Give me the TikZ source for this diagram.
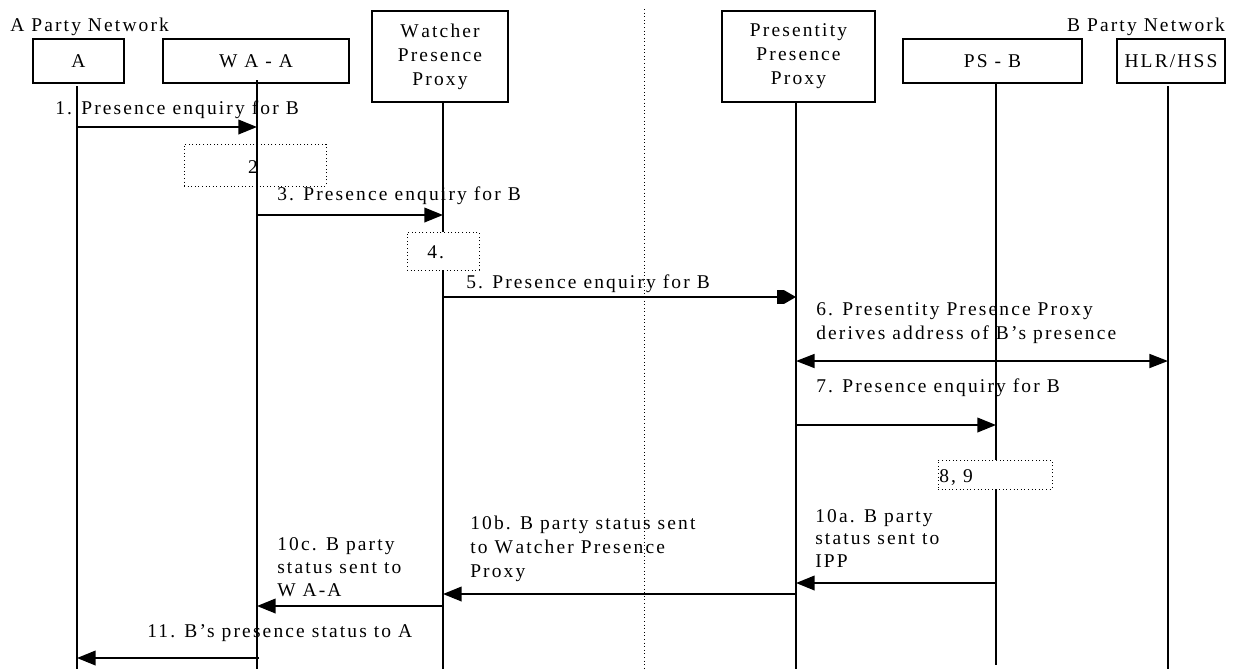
\documentclass[tikz,border=0pt]{standalone}
\usepackage{fontspec}
\setmainfont{Liberation Serif}[LetterSpace=11]
\usetikzlibrary{arrows.meta}
\begin{document}
\begin{tikzpicture}[x=0.75pt,y=-0.75pt,
  txt/.style={font=\fontsize{14.6}{18}\selectfont},
  ent/.style={txt,draw,line width=1.3pt,inner sep=0pt,align=center,minimum height=33pt},
  tall/.style={minimum height=68.25pt},
  life/.style={line width=1.3pt},
  msg/.style={line width=1.3pt,-{Triangle[length=14pt,width=11pt]}},
  lbl/.style={txt,inner sep=0pt,anchor=base west},
  act/.style={draw,dotted,line width=0.7pt,inner sep=0pt}]
\useasboundingbox (0,0) rectangle (1234,669);

% network labels
\node[lbl] (netA) at (10,31) {A Party Network};
\node[txt,inner sep=0pt,anchor=base east] (netB) at (1225,31) {B Party Network};

% divider
\coordinate (divT) at (644,9);
\coordinate (divB) at (644,669);
\draw[dotted,line width=0.7pt] (divT) -- (divB);

% entities
\node[ent,minimum width=68.25pt] (A) at (78.5,61) {A};
\node[ent,minimum width=139.5pt] (WA) at (256,61) {W A - A};
\node[ent,tall,minimum width=102pt] (WPP) at (440,56.5) {W\kern2pt atcher\\Presence\\Proxy};
\node[ent,tall,minimum width=114.75pt] (PPP) at (798.5,56.5) {Presentity\\Presence\\Proxy};
\node[ent,minimum width=134.25pt] (PSB) at (992.5,61) {PS - B};
\node[ent,minimum width=81pt] (HLR) at (1171,61) {HLR/HSS};

% lifelines
\coordinate (lAt) at (77,86);    \coordinate (lAb) at (77,669);
\coordinate (lWt) at (257,80);   \coordinate (lWb) at (257,669);
\coordinate (lPt) at (443,102);  \coordinate (lPb) at (443,669);
\coordinate (lQt) at (796,102);  \coordinate (lQb) at (796,669);
\coordinate (lSt) at (996,83);   \coordinate (lSb) at (996,665);
\coordinate (lHt) at (1168,86);  \coordinate (lHb) at (1168,669);
\draw[life] (lAt) -- (lAb);
\draw[life] (lWt) -- (lWb);
\draw[life] (lPt) -- (lPb);
\draw[life] (lQt) -- (lQb);
\draw[life] (lSt) -- (lSb);
\draw[life] (lHt) -- (lHb);

% activity boxes
\node[act,minimum width=106.5pt,minimum height=31.5pt] (b2) at (255,165) {};
\node[txt,inner sep=0pt,anchor=base] (t2) at (253,173) {2};
\node[act,fill=white,minimum width=54pt,minimum height=28.5pt] (b4) at (443,251) {};
\node[lbl] (t4) at (427,258) {4.};
\node[act,fill=white,minimum width=85.5pt,minimum height=21.75pt] (b89) at (995,474.5) {};
\node[lbl] (t89) at (939,482) {8, 9};

% message end points
\coordinate (m1s) at (77,127);   \coordinate (m1e) at (257,127);
\coordinate (m3s) at (257,215);  \coordinate (m3e) at (443,215);
\coordinate (m5s) at (443,297);  \coordinate (m5e) at (796,297);
\coordinate (m6s) at (796,361);  \coordinate (m6e) at (1168,361);
\coordinate (m7s) at (796,425);  \coordinate (m7e) at (996,425);
\coordinate (m10as) at (996,583); \coordinate (m10ae) at (796,583);
\coordinate (m10bs) at (796,594); \coordinate (m10be) at (443,594);
\coordinate (m10cs) at (443,606); \coordinate (m10ce) at (257,606);
\coordinate (m11s) at (259,658); \coordinate (m11e) at (77,658);

% messages
\draw[msg] (m1s) -- (m1e);
\node[lbl] (l1) at (55,114) {1. Presence enquiry for B};
\draw[msg] (m3s) -- (m3e);
\node[lbl] (l3) at (277,200) {3. Presence enquiry for B};
\draw[line width=1.3pt,-{Rectangle[length=5pt,width=10pt]Triangle[length=9pt,width=10pt]}] (m5s) -- (m5e);
\node[lbl] (l5) at (466,288) {5. Presence enquiry for B};
\draw[line width=1.3pt,{Triangle[length=14pt,width=10.5pt]}-{Triangle[length=14pt,width=10.5pt]}] (m6s) -- (m6e);
\node[lbl] (l6) at (816,315) {\vtop{\baselineskip=18pt\hbox{6. Presentity Presence Proxy}\hbox{derives address of B’s presence}}};
\draw[msg] (m7s) -- (m7e);
\node[lbl] (l7) at (816,392) {7. Presence enquiry for B};
\draw[msg] (m10as) -- (m10ae);
\node[lbl] (l10a) at (815,522) {\vtop{\baselineskip=17pt\hbox{10a. B party}\hbox{status sent to}\hbox{IPP}}};
\draw[msg] (m10bs) -- (m10be);
\node[lbl] (l10b) at (470,529) {\vtop{\baselineskip=18pt\hbox{10b. B party status sent}\hbox{to W\kern2pt atcher Presence}\hbox{Proxy}}};
\draw[msg] (m10cs) -- (m10ce);
\node[lbl] (l10c) at (277,550) {\vtop{\baselineskip=17.6pt\hbox{10c. B party}\hbox{status sent to}\hbox{W A-A}}};
\draw[msg] (m11s) -- (m11e);
\node[lbl] (l11) at (147,637) {11. B’s presence status to A};
\end{tikzpicture}
\end{document}
